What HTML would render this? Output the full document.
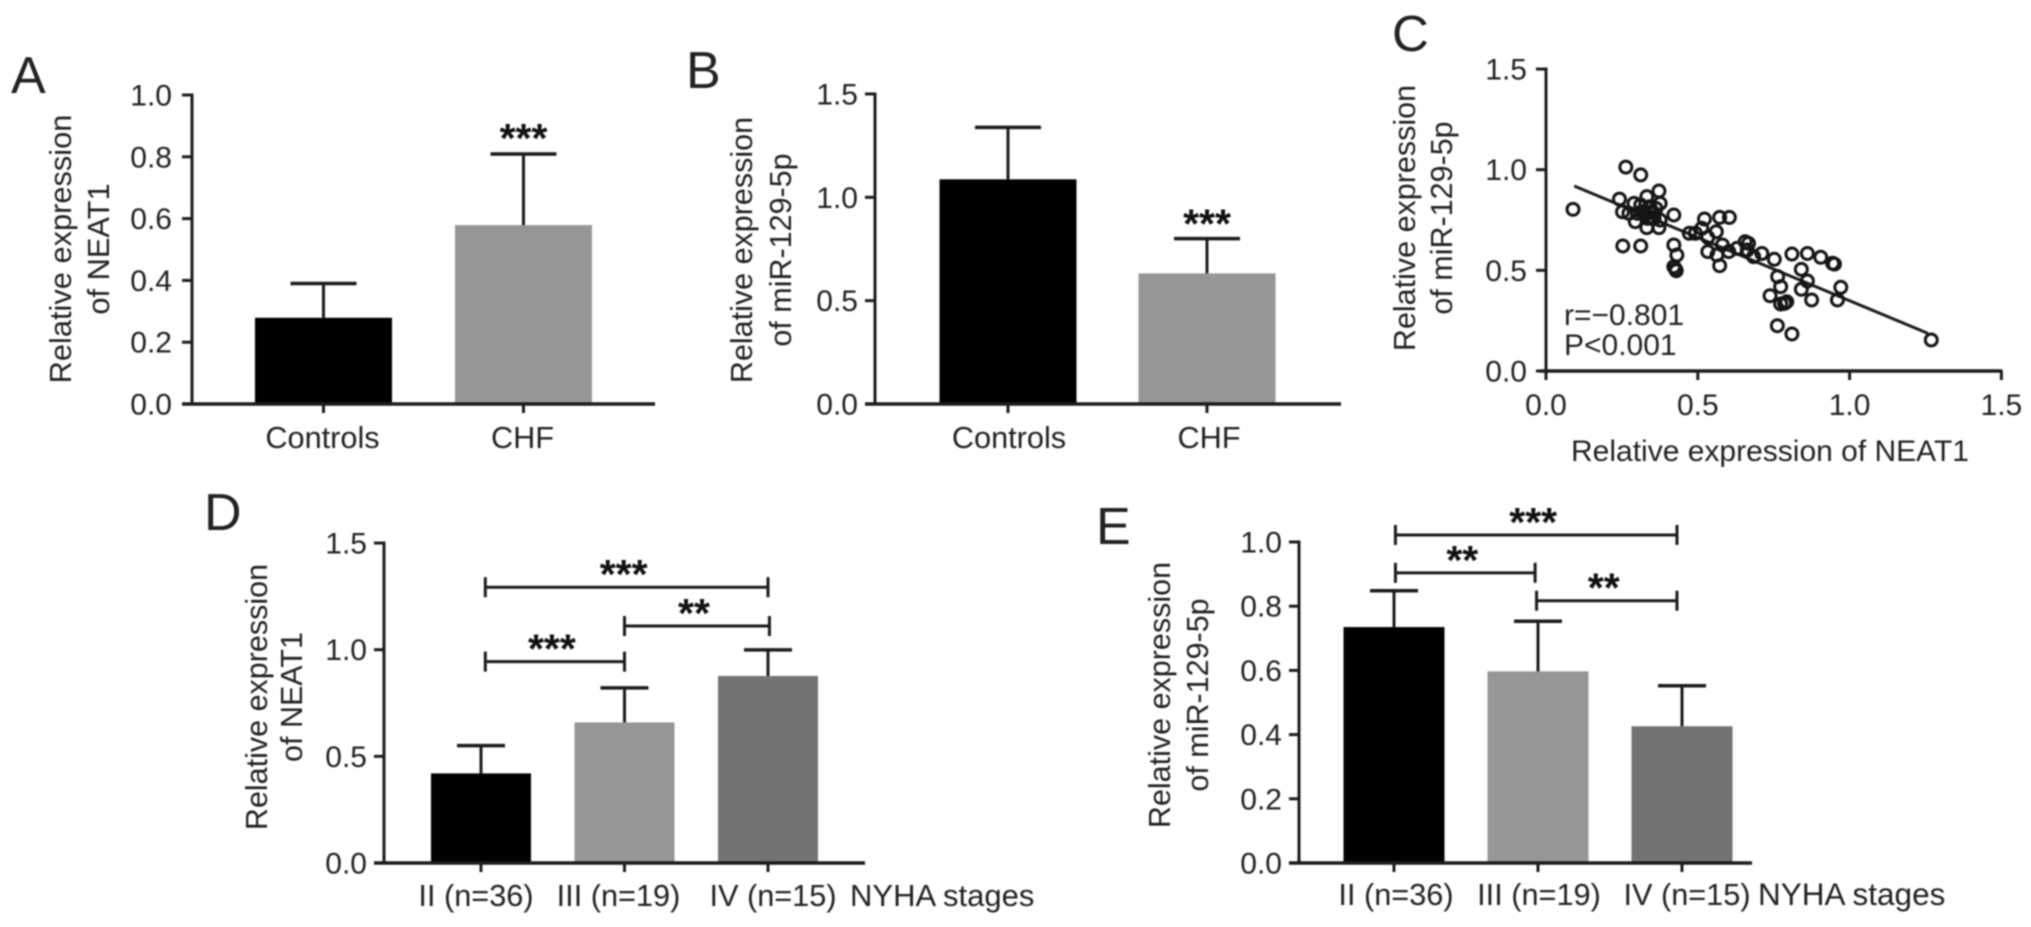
<!DOCTYPE html>
<html lang="en">
<head>
<meta charset="utf-8">
<title>NEAT1 and miR-129-5p expression</title>
<style>
html,body{margin:0;padding:0;background:#fff;width:2031px;height:927px;overflow:hidden}
svg{display:block;filter:blur(.7px)}
text{font-family:"Liberation Sans",Arial,sans-serif;fill:#222}
</style>
</head>
<body>
<svg id="figure" xmlns="http://www.w3.org/2000/svg" width="2031" height="927" viewBox="0 0 2031 927">
  <rect width="2031" height="927" fill="#fff"/>
  <text x="11" y="93" font-size="52">A</text>
  <text x="686" y="88" font-size="52">B</text>
  <text x="1392" y="51" font-size="51">C</text>
  <text x="204" y="530" font-size="52">D</text>
  <text x="1096" y="544" font-size="52">E</text>
  <text x="850" y="906" font-size="31">NYHA stages</text>
  <text x="1758" y="905" font-size="31.5">NYHA stages</text>
  <text x="1564" y="325" font-size="30">r=−0.801</text>
  <text x="1564" y="355" font-size="30">P&lt;0.001</text>
  <text x="1770" y="461" font-size="30" text-anchor="middle">Relative expression of NEAT1</text>
</svg>
<script>
// Panel A
const categoriesA = ['Controls', 'CHF'];
const meansA = [0.279, 0.579];
const errorsA = [0.111, 0.230];
const sigA = ['', '***'];
const tickLabelsA = ['0.0', '0.2', '0.4', '0.6', '0.8', '1.0'];
// Panel B
const categoriesB = ['Controls', 'CHF'];
const meansB = [1.087, 0.632];
const errorsB = [0.251, 0.168];
const sigB = ['', '***'];
const tickLabelsB = ['0.0', '0.5', '1.0', '1.5'];
// Panel C
const scatterX = [0.089,0.263,0.312,0.242,0.252,0.253,0.312,0.372,0.421,0.421,0.431,0.421,0.427,0.429,0.290,0.312,0.332,0.376,0.273,0.294,0.332,0.372,0.376,0.342,0.349,0.356,0.328,0.362,0.315,0.335,0.301,0.356,0.472,0.492,0.513,0.522,0.561,0.572,0.604,0.533,0.533,0.581,0.563,0.572,0.602,0.629,0.656,0.667,0.663,0.684,0.711,0.752,0.810,0.861,0.905,0.944,0.950,0.763,0.773,0.738,0.773,0.793,0.786,0.841,0.861,0.841,0.875,0.971,0.960,0.762,0.810,1.269];
const scatterY = [0.803,1.013,0.974,0.854,0.791,0.621,0.621,0.894,0.775,0.626,0.576,0.518,0.505,0.498,0.833,0.825,0.866,0.833,0.783,0.742,0.712,0.712,0.750,0.816,0.791,0.783,0.783,0.808,0.791,0.758,0.783,0.758,0.684,0.684,0.709,0.755,0.692,0.763,0.763,0.664,0.593,0.626,0.576,0.523,0.593,0.609,0.642,0.634,0.601,0.568,0.584,0.555,0.581,0.584,0.565,0.535,0.531,0.469,0.419,0.374,0.333,0.344,0.336,0.505,0.447,0.406,0.353,0.416,0.353,0.225,0.184,0.154];
const fitX = [0.093, 1.258];
const fitY = [0.919, 0.187];
const tickLabelsCX = ['0.0', '0.5', '1.0', '1.5'];
const tickLabelsCY = ['0.0', '0.5', '1.0', '1.5'];
// Panel D
const categoriesD = ['II (n=36)', 'III (n=19)', 'IV (n=15)'];
const meansD = [0.420, 0.659, 0.877];
const errorsD = [0.130, 0.162, 0.122];
const tickLabelsD = ['0.0', '0.5', '1.0', '1.5'];
const bracketFromD = [0.03, 1.0, 0.03];
const bracketToD = [2.0, 2.01, 1.0];
const bracketLevelD = [1.293, 1.111, 0.944];
const bracketStarsD = ['***', '**', '***'];
// Panel E
const categoriesE = ['II (n=36)', 'III (n=19)', 'IV (n=15)'];
const meansE = [0.735, 0.597, 0.426];
const errorsE = [0.113, 0.156, 0.126];
const tickLabelsE = ['0.0', '0.2', '0.4', '0.6', '0.8', '1.0'];
const bracketFromE = [0.01, 0.01, 0.99];
const bracketToE = [1.965, 0.98, 1.965];
const bracketLevelE = [1.022, 0.904, 0.817];
const bracketStarsE = ['***', '**', '**'];

const NS = 'http://www.w3.org/2000/svg';
const root = document.getElementById('figure');
const INK = '#1c1c1c';
const BAR_FILLS = ['#000000', '#969696', '#737373'];

function line(g, x1, y1, x2, y2, w) {
  const n = document.createElementNS(NS, 'line');
  n.setAttribute('x1', x1);
  n.setAttribute('y1', y1);
  n.setAttribute('x2', x2);
  n.setAttribute('y2', y2);
  n.setAttribute('stroke', INK);
  n.setAttribute('stroke-width', w);
  g.appendChild(n);
  return n;
}
function label(g, s, x, y, anchor, rot, size) {
  const n = document.createElementNS(NS, 'text');
  n.textContent = s;
  n.setAttribute('font-size', size || 30.7);
  n.setAttribute('text-anchor', anchor);
  if (rot) {
    n.setAttribute('transform', 'translate(' + x + ' ' + y + ') rotate(-90)');
  } else {
    n.setAttribute('x', x);
    n.setAttribute('y', y);
  }
  g.appendChild(n);
  return n;
}
function stars(g, s, x, centerY) {
  const n = document.createElementNS(NS, 'text');
  n.textContent = s;
  n.setAttribute('font-size', 41);
  n.setAttribute('font-weight', 'bold');
  n.setAttribute('text-anchor', 'middle');
  n.setAttribute('x', x);
  n.setAttribute('y', centerY + 19);
  n.setAttribute('fill', '#111');
  n.style.fill = '#111';
  g.appendChild(n);
  return n;
}
function group(name) {
  const g = document.createElementNS(NS, 'g');
  
  
  root.appendChild(g);
  return g;
}
function yAxis(g, box, labels, max, yOf) {
  const ax = line(g, box.x, yOf(max) - 1.5, box.x, yOf(0), 3);
  
  
  labels.forEach(function (t) {
    const v = parseFloat(t);
    const tk = line(g, box.x - 10, yOf(v), box.x, yOf(v), 3);
    
    
    const lb = label(g, t, box.x - box.tickGap, yOf(v) + 10.5, 'end', false, 30);
    
    
  });
  const a = label(g, box.title1, box.title1X, box.titleY, 'middle', true, box.titleSize);
  
  
  const b = label(g, box.title2, box.title2X, box.titleY, 'middle', true, box.titleSize);
  
  
}
function barChart(name, box, cats, means, errs, ticks, max, labelOffsets) {
  const g = group(name);
  const yOf = function (v) { return box.y0 - v * box.scale; };
  const xOf = function (i) { return box.c0 + i * box.step; };
  means.forEach(function (m, i) {
    const r = document.createElementNS(NS, 'rect');
    r.setAttribute('x', xOf(i) - box.barW / 2);
    r.setAttribute('y', yOf(m));
    r.setAttribute('width', box.barW);
    r.setAttribute('height', box.y0 - yOf(m));
    r.setAttribute('fill', BAR_FILLS[i]);
    
    
    g.appendChild(r);
    const st = line(g, xOf(i), yOf(m), xOf(i), yOf(m + errs[i]), 3);
    
    
    const cp = line(g, xOf(i) - box.capW / 2, yOf(m + errs[i]), xOf(i) + box.capW / 2, yOf(m + errs[i]), 3.5);
    
    
    const tk = line(g, xOf(i), box.y0, xOf(i), box.y0 + 9, 3);
    
    
    const lb = label(g, cats[i], xOf(i) + labelOffsets[i], box.labelY, 'middle');
    
    
  });
  const xa = line(g, box.x - 10, box.y0, box.xEnd, box.y0, 3.5);
  
  
  yAxis(g, box, ticks, max, yOf);
  return { g: g, xOf: xOf, yOf: yOf };
}
function sigStars(c, sig, errs, means, gap) {
  sig.forEach(function (s, i) {
    if (!s) return;
    const n = stars(c.g, s, c.xOf(i), c.yOf(means[i] + errs[i]) - gap);
    
    
  });
}
function brackets(c, from, to, levels, sig) {
  levels.forEach(function (v, i) {
    const a = c.xOf(from[i]);
    const b = c.xOf(to[i]);
    const y = c.yOf(v);
    const h = line(c.g, a, y, b, y, 3);
    
    
    const l = line(c.g, a, y - 10, a, y + 10, 3);
    
    
    const r = line(c.g, b, y - 10, b, y + 10, 3);
    
    
    const t = stars(c.g, sig[i], (a + b) / 2 - 3, y - 18);
    
    
  });
}

const chartA = barChart('panel-a-chart',
  { x: 192, y0: 404, scale: 309, c0: 323.5, step: 200, barW: 137, capW: 66, xEnd: 655, labelY: 448, tickGap: 20, titleSize: 30.8,
    title1: 'Relative expression', title2: 'of NEAT1', title1X: 71, title2X: 109, titleY: 249 },
  categoriesA, meansA, errorsA, tickLabelsA, 1.0, [-1, -1]);
sigStars(chartA, sigA, errorsA, meansA, 21);

const chartB = barChart('panel-b-chart',
  { x: 875, y0: 404, scale: 206.7, c0: 1008, step: 199, barW: 137, capW: 66, xEnd: 1341, labelY: 448, tickGap: 17, titleSize: 30.5,
    title1: 'Relative expression', title2: 'of miR-129-5p', title1X: 752, title2X: 791, titleY: 250 },
  categoriesB, meansB, errorsB, tickLabelsB, 1.5, [1, 2]);
sigStars(chartB, sigB, errorsB, meansB, 20);

const chartD = barChart('panel-d-chart',
  { x: 384, y0: 863, scale: 213.3, c0: 481, step: 143.5, barW: 100, capW: 48, xEnd: 865, labelY: 906, tickGap: 17, titleSize: 30.5,
    title1: 'Relative expression', title2: 'of NEAT1', title1X: 267, title2X: 302, titleY: 697 },
  categoriesD, meansD, errorsD, tickLabelsD, 1.5, [-5, -6, 5]);
brackets(chartD, bracketFromD, bracketToD, bracketLevelD, bracketStarsD);

const chartE = barChart('panel-e-chart',
  { x: 1299, y0: 863, scale: 321, c0: 1394, step: 144, barW: 101, capW: 48, xEnd: 1752, labelY: 905, tickGap: 17, titleSize: 30.5,
    title1: 'Relative expression', title2: 'of miR-129-5p', title1X: 1170, title2X: 1208, titleY: 695 },
  categoriesE, meansE, errorsE, tickLabelsE, 1.0, [2, 1, 5]);
brackets(chartE, bracketFromE, bracketToE, bracketLevelE, bracketStarsE);

// Panel C scatter
(function () {
  const g = group('panel-c-chart');
  const box = { x: 1546, tickGap: 19, titleSize: 30.5, title1: 'Relative expression', title2: 'of miR-129-5p', title1X: 1415, title2X: 1452, titleY: 218 };
  const xOf = function (v) { return 1546 + v * 303.6; };
  const yOf = function (v) { return 371 - v * 201.3; };
  const xa = line(g, 1540, yOf(0), xOf(1.5) + 1, yOf(0), 3.5);
  
  
  tickLabelsCX.forEach(function (t) {
    const v = parseFloat(t);
    const tk = line(g, xOf(v), yOf(0), xOf(v), yOf(0) + 9, 3);
    
    
    const lb = label(g, t, xOf(v), 415, 'middle', false, 30);
    
    
  });
  yAxis(g, box, tickLabelsCY, 1.5, yOf);
  const fit = line(g, xOf(fitX[0]), yOf(fitY[0]), xOf(fitX[1]), yOf(fitY[1]), 3);
  
  
  scatterX.forEach(function (vx, i) {
    const c = document.createElementNS(NS, 'circle');
    c.setAttribute('cx', xOf(vx));
    c.setAttribute('cy', yOf(scatterY[i]));
    c.setAttribute('r', 6);
    c.setAttribute('fill', 'none');
    c.setAttribute('stroke', '#151515');
    c.setAttribute('stroke-width', 3);
    
    
    g.appendChild(c);
  });
})();
</script>
</body>
</html>
